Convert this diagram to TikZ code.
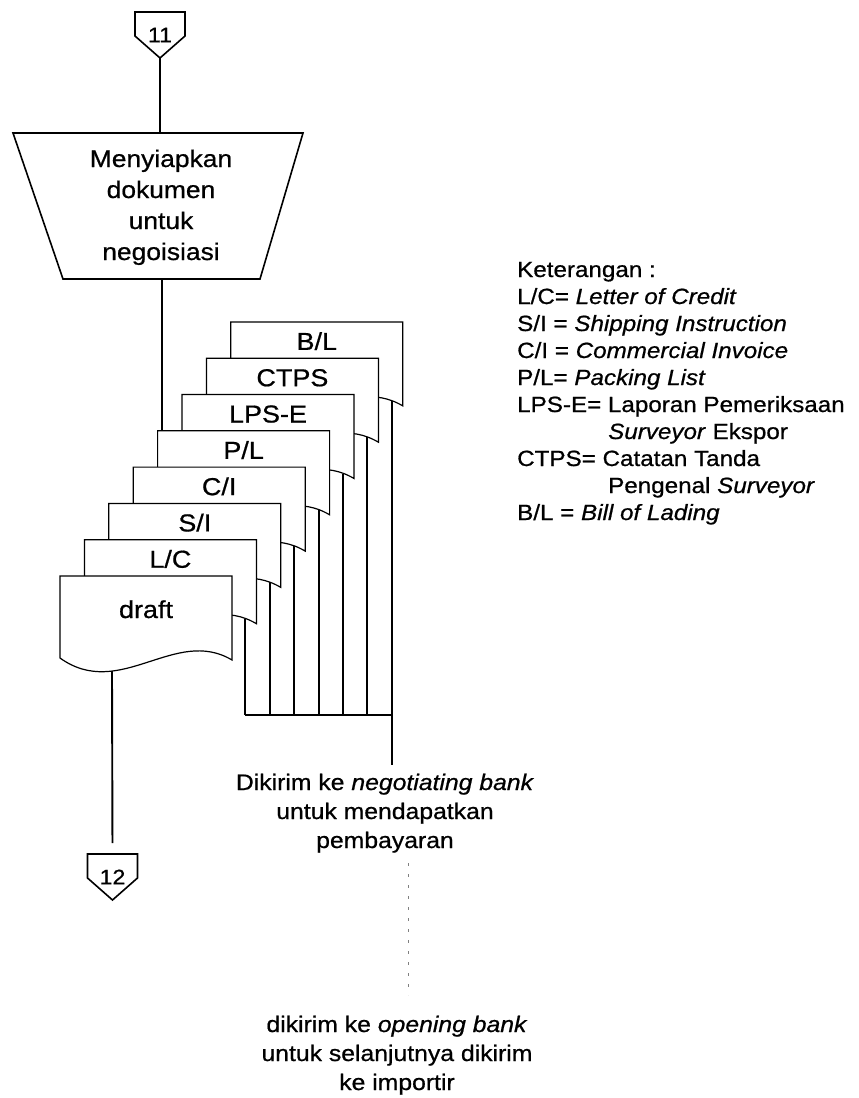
\documentclass[tikz,border=0pt]{standalone}
\usepackage{fontspec}
\setmainfont[FakeStretch=1.1, FakeBold=0.7]{Liberation Sans}
\usetikzlibrary{calc}

% off-page connector: name, x, y of the number, number
\newcommand\offpage[4]{%
  \node[inner sep=0pt, font=\fontsize{21}{21}\selectfont] (#1) at (#2,#3) {#4};
  \draw[shapeline] ($(#1)+(-25,-23)$) -- ++(50,0) -- ++(0,24)
      -- ++(-25,22) coordinate (#1-tip) -- ++(-25,-22) -- cycle;
  \coordinate (#1-top) at ($(#1)+(0,-23)$);
}

% one document sheet with a wavy lower edge: name, x, y of top-left, label, baseline offset
\newcommand\docpage[5]{%
  \begin{scope}[shift={(#2,#3)}]
    \draw[docline] (0,0) coordinate (#1-nw) -- (172,0) -- (172,84)
        .. controls (115,50) and (60,125) .. (0,82) -- cycle;
    \node[doclabel, anchor=base] (#1) at (86,#5) {#4};
    \coordinate (#1-out) at (161,79);
    \coordinate (#1-bot) at (52,95);
  \end{scope}
}

\begin{document}
\begin{tikzpicture}[x=1pt,y=-1pt,
  docline/.style={line width=1.2pt, line join=miter, fill=white},
  flow/.style={line width=1.9pt},
  shapeline/.style={line width=1.6pt, line join=miter},
  doclabel/.style={font=\fontsize{24.5}{30}\selectfont, inner sep=0pt},
  note/.style={inner sep=0pt},
  dotline/.style={line width=0.7pt, gray, dash pattern=on 3pt off 8pt},
]
\useasboundingbox (0,0) rectangle (859,1098);

% start connector and process step
\offpage{c11}{160}{35}{11}
\draw[shapeline] (13,133) -- (303,133) -- (260,279) -- (63,279) -- cycle;
\coordinate (trap-top) at (160,133);
\coordinate (trap-bot) at (162,279);
\node[note, anchor=base] (trap) at (161,167)
  {\fontsize{24}{31}\selectfont\begin{tabular}[t]{@{}c@{}}Menyiapkan\\dokumen\\untuk\\negoisiasi\end{tabular}};
\draw[flow] (c11-tip) -- (trap-top);

% stack of documents, back to front
\docpage{bl}{230.8}{321.9}{B/L}{28}
\docpage{ctps}{206.4}{358.2}{CTPS}{28}
\docpage{lpse}{182.0}{394.5}{LPS-E}{28}
\docpage{pl}{157.6}{430.8}{P/L}{28}
\docpage{ci}{133.2}{467.1}{C/I}{28}
\docpage{si}{108.8}{503.4}{S/I}{28}
\docpage{lc}{84.4}{539.7}{L/C}{28}
\docpage{draft}{60}{576}{draft}{42}

\draw[flow] (trap-bot) -- (trap-bot |- pl-nw);

% collecting lines under the documents
\coordinate (bus) at (0,715);
\foreach \d in {lc,si,ci,pl,lpse,ctps}
  \draw[flow] (\d-out) -- (\d-out |- bus);
\draw[flow] (lc-out |- bus) -- (bl-out |- bus);

% text notes
\node[note, anchor=base] (dik) at (385,790)
  {\fontsize{22.5}{29}\selectfont\begin{tabular}[t]{@{}c@{}}Dikirim ke \textit{negotiating bank}\\untuk mendapatkan\\pembayaran\end{tabular}};
\coordinate (dik-top) at (0,765);
\draw[flow] (bl-out) -- (bl-out |- dik-top);

\node[note, anchor=base] (imp) at (397,1032)
  {\fontsize{22.5}{29}\selectfont\begin{tabular}[t]{@{}c@{}}dikirim ke \textit{opening bank}\\untuk selanjutnya dikirim\\ke importir\end{tabular}};
\coordinate (dot-a) at (408,863);
\coordinate (dot-b) at (408,995);
\draw[dotline] (dot-a) -- (dot-b);

% end connector
\offpage{c12}{112.5}{877}{12}
\draw[flow, shorten >=11pt] (draft-bot) -- (c12-top);

% legend
\node[note, anchor=base west] (legend) at (517,277)
  {\fontsize{22}{27}\selectfont\begin{tabular}[t]{@{}l@{}}
   Keterangan :\\
   L/C= \textit{Letter of Credit}\\
   S/I = \textit{Shipping Instruction}\\
   C/I = \textit{Commercial Invoice}\\
   P/L= \textit{Packing List}\\
   LPS-E= Laporan Pemeriksaan\\
   \hspace*{91pt}\textit{Surveyor} Ekspor\\
   CTPS= Catatan Tanda\\
   \hspace*{91pt}Pengenal \textit{Surveyor}\\
   B/L = \textit{Bill of Lading}
  \end{tabular}};
\end{tikzpicture}
\end{document}
